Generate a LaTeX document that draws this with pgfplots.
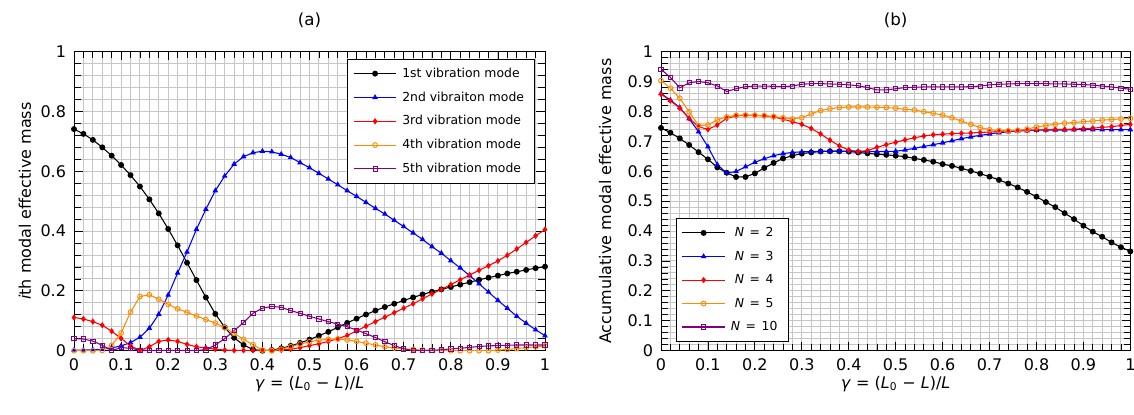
\documentclass[border=0pt]{standalone}
\usepackage{pgfplots}
\pgfplotsset{compat=1.18}
\usepackage{pgfplotstable}
\usepackage{fontspec}
\setmainfont{DejaVu Sans}
\definecolor{cblack}{RGB}{0,0,0}
\definecolor{cblue}{RGB}{0,0,255}
\definecolor{cred}{RGB}{255,0,0}
\definecolor{corange}{RGB}{255,140,0}
\definecolor{cpurple}{RGB}{128,0,128}

\pgfplotstableread{
x m1 m2 m3 m4 m5
0.00 0.741 0.002 0.111 0.000 0.040
0.02 0.725 0.002 0.106 0.000 0.039
0.04 0.705 0.003 0.097 0.000 0.032
0.06 0.680 0.005 0.085 0.001 0.018
0.08 0.652 0.009 0.065 0.018 0.000
0.10 0.621 0.016 0.041 0.059 0.010
0.12 0.587 0.027 0.016 0.129 0.008
0.14 0.549 0.045 0.001 0.181 0.002
0.16 0.506 0.075 0.013 0.187 0.001
0.18 0.459 0.122 0.031 0.172 0.001
0.20 0.407 0.186 0.036 0.155 0.001
0.22 0.352 0.260 0.031 0.140 0.001
0.24 0.294 0.330 0.021 0.128 0.001
0.26 0.236 0.406 0.013 0.116 0.001
0.28 0.178 0.473 0.009 0.104 0.003
0.30 0.123 0.535 0.005 0.092 0.019
0.32 0.078 0.584 0.002 0.077 0.040
0.34 0.043 0.624 0.001 0.058 0.067
0.36 0.019 0.649 0.001 0.038 0.094
0.38 0.004 0.662 0.001 0.020 0.125
0.40 0.000 0.667 0.001 0.002 0.142
0.42 0.002 0.665 0.001 0.000 0.148
0.44 0.008 0.657 0.002 0.005 0.145
0.46 0.016 0.646 0.005 0.013 0.134
0.48 0.026 0.629 0.010 0.022 0.125
0.50 0.037 0.612 0.017 0.030 0.115
0.52 0.050 0.593 0.023 0.035 0.106
0.54 0.063 0.574 0.031 0.038 0.097
0.56 0.078 0.555 0.040 0.039 0.089
0.58 0.093 0.535 0.051 0.036 0.080
0.60 0.107 0.516 0.066 0.031 0.069
0.62 0.121 0.496 0.082 0.025 0.057
0.64 0.134 0.476 0.097 0.019 0.044
0.66 0.146 0.457 0.112 0.013 0.030
0.68 0.157 0.436 0.127 0.009 0.017
0.70 0.168 0.415 0.142 0.006 0.006
0.72 0.178 0.394 0.157 0.004 0.001
0.74 0.188 0.372 0.173 0.002 0.000
0.76 0.197 0.348 0.190 0.001 0.001
0.78 0.205 0.326 0.205 0.001 0.003
0.80 0.213 0.301 0.221 0.000 0.006
0.82 0.221 0.277 0.237 0.000 0.008
0.84 0.229 0.251 0.253 0.000 0.011
0.86 0.237 0.224 0.269 0.000 0.014
0.88 0.244 0.196 0.284 0.000 0.016
0.90 0.251 0.168 0.300 0.002 0.017
0.92 0.258 0.142 0.319 0.004 0.018
0.94 0.264 0.115 0.340 0.007 0.019
0.96 0.270 0.092 0.362 0.010 0.019
0.98 0.276 0.070 0.384 0.013 0.019
1.00 0.281 0.050 0.405 0.016 0.019
}\modes

\pgfplotstableread{
x n2 n3 n4 n5 n10
0.00 0.745 0.860 0.858 0.903 0.941
0.02 0.729 0.838 0.836 0.878 0.914
0.04 0.710 0.813 0.811 0.844 0.879
0.06 0.688 0.776 0.777 0.799 0.896
0.08 0.664 0.732 0.749 0.753 0.900
0.10 0.640 0.682 0.740 0.755 0.896
0.12 0.613 0.622 0.755 0.772 0.885
0.14 0.595 0.594 0.777 0.782 0.867
0.16 0.581 0.599 0.785 0.787 0.876
0.18 0.581 0.615 0.787 0.788 0.883
0.20 0.593 0.630 0.787 0.787 0.885
0.22 0.611 0.642 0.785 0.786 0.885
0.24 0.628 0.652 0.782 0.783 0.884
0.26 0.643 0.659 0.774 0.779 0.883
0.28 0.652 0.663 0.766 0.775 0.885
0.30 0.659 0.665 0.757 0.779 0.891
0.32 0.663 0.666 0.743 0.792 0.893
0.34 0.666 0.667 0.725 0.803 0.893
0.36 0.667 0.667 0.704 0.809 0.892
0.38 0.667 0.667 0.685 0.813 0.891
0.40 0.666 0.667 0.671 0.815 0.889
0.42 0.663 0.666 0.666 0.815 0.886
0.44 0.660 0.666 0.669 0.815 0.880
0.46 0.657 0.666 0.680 0.814 0.872
0.48 0.655 0.666 0.689 0.813 0.872
0.50 0.652 0.667 0.697 0.811 0.876
0.52 0.649 0.671 0.705 0.807 0.880
0.54 0.643 0.677 0.712 0.805 0.881
0.56 0.638 0.683 0.718 0.799 0.882
0.58 0.632 0.689 0.722 0.794 0.882
0.60 0.624 0.695 0.724 0.788 0.882
0.62 0.618 0.702 0.726 0.779 0.882
0.64 0.610 0.709 0.727 0.768 0.882
0.66 0.601 0.715 0.728 0.757 0.883
0.68 0.592 0.720 0.730 0.746 0.885
0.70 0.582 0.725 0.731 0.739 0.889
0.72 0.571 0.729 0.733 0.736 0.891
0.74 0.559 0.732 0.735 0.735 0.892
0.76 0.546 0.735 0.736 0.737 0.893
0.78 0.531 0.736 0.737 0.741 0.893
0.80 0.515 0.737 0.738 0.748 0.893
0.82 0.497 0.738 0.739 0.753 0.893
0.84 0.480 0.738 0.740 0.757 0.892
0.86 0.460 0.738 0.740 0.761 0.892
0.88 0.440 0.739 0.741 0.763 0.891
0.90 0.418 0.739 0.743 0.766 0.890
0.92 0.398 0.739 0.744 0.768 0.888
0.94 0.381 0.739 0.747 0.771 0.885
0.96 0.362 0.739 0.749 0.773 0.882
0.98 0.346 0.739 0.753 0.775 0.878
1.00 0.332 0.739 0.757 0.777 0.874
}\accum

\pgfplotsset{
  panel/.style={
    scale only axis, width=353.25pt, height=224.25pt,
    xmin=0, xmax=1, ymin=0, ymax=1,
    xtick={0,0.1,0.2,0.3,0.4,0.5,0.6,0.7,0.8,0.9,1},
    xticklabels={0,0.1,0.2,0.3,0.4,0.5,0.6,0.7,0.8,0.9,1},
    minor x tick num=4, minor y tick num=4,
    grid=both,
    major grid style={gray!45, line width=0.7pt},
    minor grid style={gray!45, line width=0.7pt},
    axis line style={black, line width=0.7pt},
    tick style={black, line width=0.6pt},
    major tick length=6.5pt, minor tick length=5pt,
    tick align=inside,
    /pgf/number format/assume math mode=true,
    tick label style={font=\fontsize{12}{14}\selectfont},
    yticklabel style={xshift=-2.5pt},
    xticklabel style={yshift=-2.5pt},
    label style={font=\fontsize{12}{14}\selectfont},
    every axis title shift=0pt,
    title style={at={(axis description cs:0.5,1.106)}, anchor=center, font=\fontsize{12.5}{14}\selectfont},
    xlabel style={at={(axis description cs:0.5,-0.112)}, anchor=center},
    legend cell align=left,
    legend style={draw=black, line width=0.6pt, fill=white,
      font=\fontsize{9.3}{11}\selectfont, row sep=5.3pt, inner xsep=4pt, inner ysep=4.5pt,
      nodes={inner xsep=4pt}},
    legend image code/.code={\draw[mark repeat=2,mark phase=2,#1] plot coordinates {(0pt,0pt) (16pt,0pt) (32pt,0pt)};},
    every axis plot/.append style={line width=0.8pt},
    xlabel={\textit{γ} = (\textit{L}\textsubscript{0} − \textit{L})/\textit{L}},
  },
  s1/.style={color=cblack, mark=*, mark size=1.8pt, mark options={solid}},
  s2/.style={color=cblue, mark=triangle*, mark size=1.7pt},
  s3/.style={color=cred, mark=diamond*, mark size=1.7pt},
  s4/.style={color=corange, mark=o, mark size=1.8pt, mark options={line width=0.7pt}},
  s5/.style={color=cpurple, mark=square, mark size=1.6pt, mark options={line width=0.6pt}},
}

\begin{document}
\begin{tikzpicture}
\useasboundingbox (0,0) rectangle (850.5pt,310.5pt);
\begin{axis}[panel, at={(55.5pt,47.5pt)}, anchor=south west,
  title={(a)},
  ytick={0,0.2,0.4,0.6,0.8,1},
  yticklabels={0,0.2,0.4,0.6,0.8,1},
  ylabel={\textit{i}th modal effective mass},
  ylabel style={at={(axis description cs:-0.104,0.5)}, anchor=center},
  legend style={at={(0.979,0.976)}, anchor=north east},
]
\addplot[s1] table[x=x,y=m1] {\modes};
\addlegendentry{1st vibration mode}
\addplot[s2] table[x=x,y=m2] {\modes};
\addlegendentry{2nd vibraiton mode}
\addplot[s3] table[x=x,y=m3] {\modes};
\addlegendentry{3rd vibration mode}
\addplot[s4] table[x=x,y=m4] {\modes};
\addlegendentry{4th vibration mode}
\addplot[s5] table[x=x,y=m5] {\modes};
\addlegendentry{5th vibration mode}
\end{axis}

\begin{axis}[panel, width=352pt, at={(495.75pt,47.5pt)}, anchor=south west,
  title={(b)},
  ytick={0,0.1,0.2,0.3,0.4,0.5,0.6,0.7,0.8,0.9,1},
  yticklabels={0,0.1,0.2,0.3,0.4,0.5,0.6,0.7,0.8,0.9,1},
  ylabel={Accumulative modal effective mass},
  ylabel style={at={(axis description cs:-0.119,0.5)}, anchor=center},
  legend style={at={(0.032,0.030)}, anchor=south west},
]
\addplot[s1] table[x=x,y=n2] {\accum};
\addlegendentry{\hspace{3pt}\textit{N}\hspace{0.45em}=\hspace{0.45em}2}
\addplot[s2] table[x=x,y=n3] {\accum};
\addlegendentry{\hspace{3pt}\textit{N}\hspace{0.45em}=\hspace{0.45em}3}
\addplot[s3] table[x=x,y=n4] {\accum};
\addlegendentry{\hspace{3pt}\textit{N}\hspace{0.45em}=\hspace{0.45em}4}
\addplot[s4] table[x=x,y=n5] {\accum};
\addlegendentry{\hspace{3pt}\textit{N}\hspace{0.45em}=\hspace{0.45em}5}
\addplot[s5] table[x=x,y=n10] {\accum};
\addlegendentry{\textit{N}\hspace{0.45em}=\hspace{0.45em}10}
\end{axis}
\end{tikzpicture}
\end{document}
